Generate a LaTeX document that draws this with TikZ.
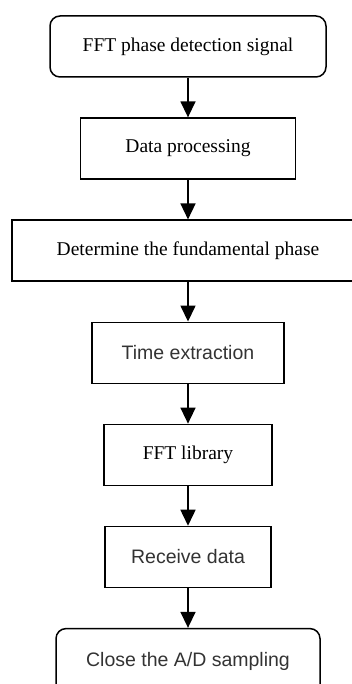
\documentclass[tikz,border=0pt]{standalone}
\usepackage{fontspec}
\setmainfont{Liberation Serif}
\setsansfont{Liberation Sans}
\usetikzlibrary{arrows.meta,positioning}

\begin{document}
\begin{tikzpicture}[->,>={Triangle[length=16pt,width=15pt]},auto,node distance=39.6pt,
                    x=1pt,y=1pt,line width=1.5pt,
                    main node/.style={rectangle,draw,minimum height=61pt,inner sep=0pt,font=\fontsize{19.5}{23}\selectfont},
                    end node/.style={main node,rounded corners=10pt},
                    sans node/.style={text=black!80,font=\sffamily\fontsize{19.5}{23}\selectfont}]

  \path[use as bounding box,clip] (0,0) rectangle (352,684);

  \node[end node,minimum width=276pt] (0) at (188,637.5) {FFT phase detection signal};
  \node[main node,minimum width=215pt] (1) [below=of 0] {Data processing};
  \node[main node,minimum width=352pt] (2) [below=of 1] {Determine the fundamental phase};
  \node[main node,sans node,minimum width=192pt] (3) [below=of 2] {Time extraction};
  \node[main node,minimum width=168pt] (4) [below=of 3] {FFT library};
  \node[main node,sans node,minimum width=166pt] (5) [below=of 4] {Receive data};
  \node[end node,sans node,minimum width=264pt,minimum height=66pt] (6) [below=of 5] {Close the A/D sampling};

  \path
    (0) edge (1)
    (1) edge (2)
    (2) edge (3)
    (3) edge (4)
    (4) edge (5)
    (5) edge (6);
\end{tikzpicture}
\end{document}
